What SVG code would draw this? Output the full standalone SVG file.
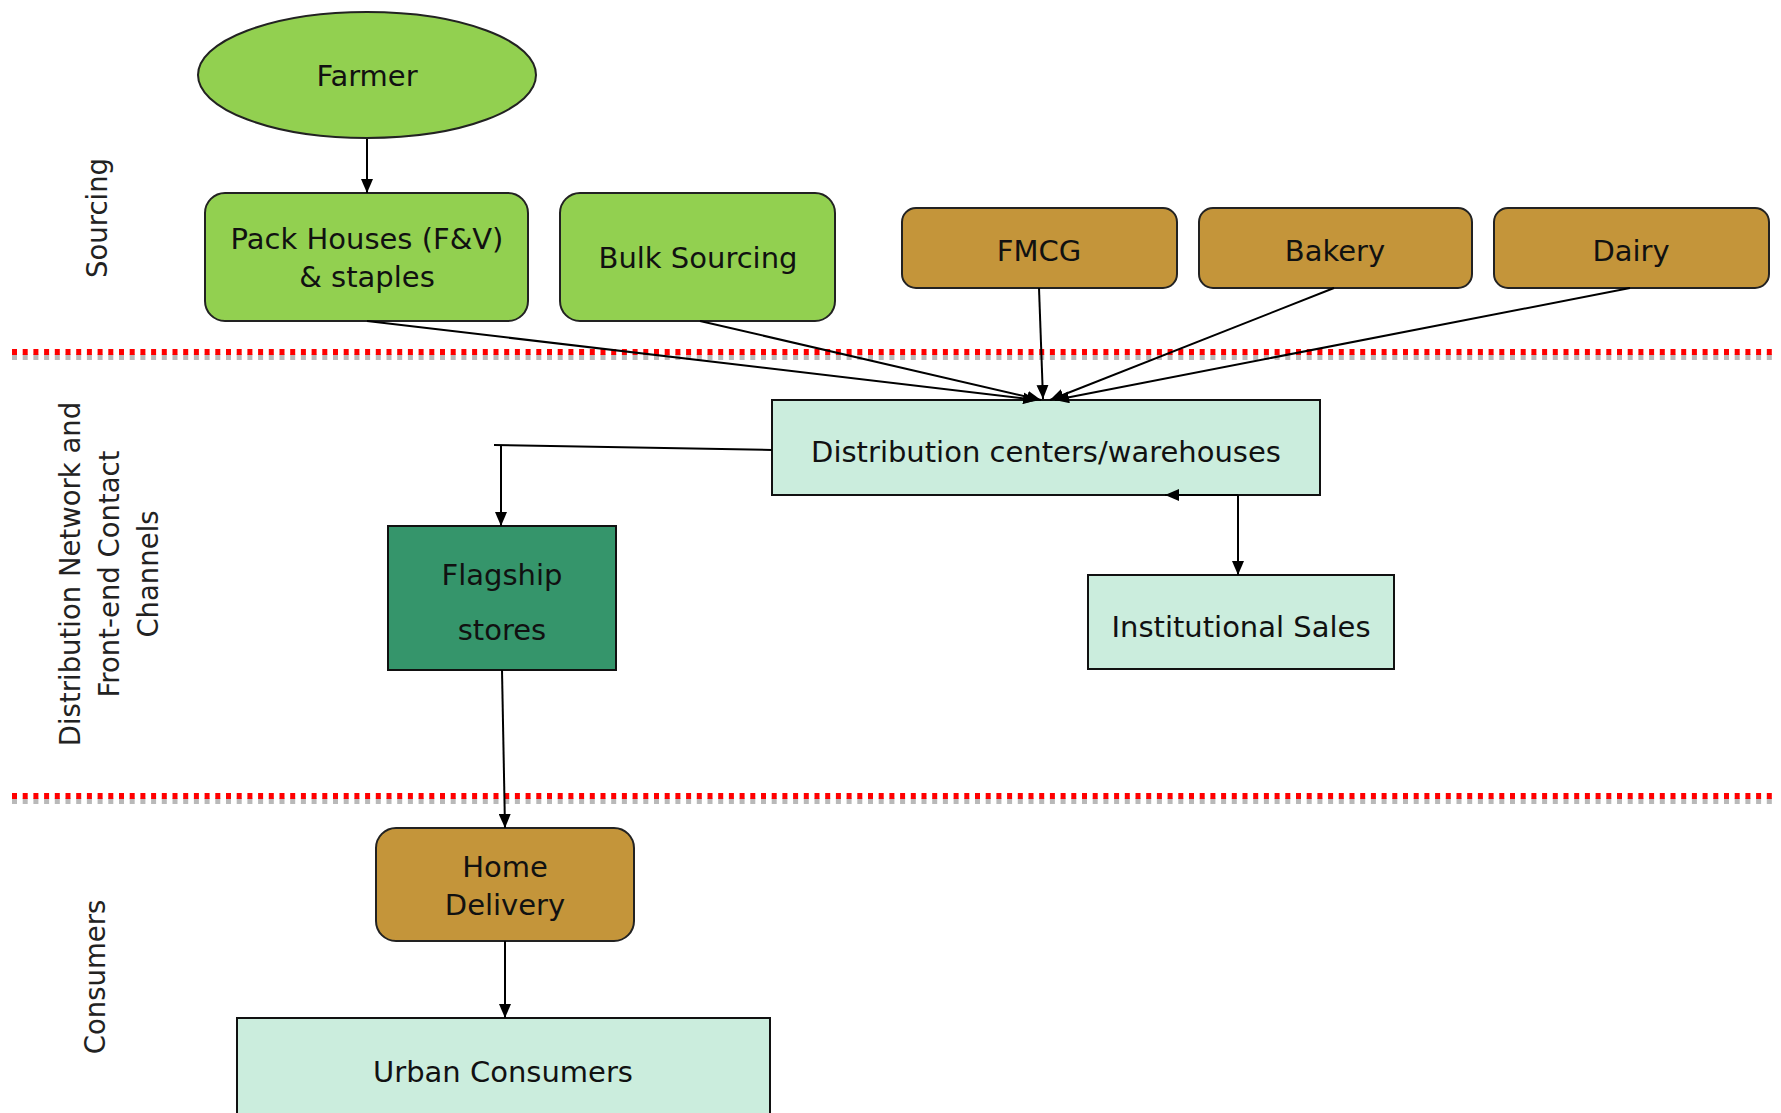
<svg xmlns="http://www.w3.org/2000/svg" width="1781" height="1113" viewBox="0 0 1781 1113">
<style>
.lbl{font-family:"DejaVu Sans",sans-serif;font-size:29px;fill:#111;text-anchor:middle}
.side{font-family:"DejaVu Sans",sans-serif;font-size:27.5px;fill:#222;text-anchor:middle}
.green{fill:#92D050;stroke:#222;stroke-width:2}
.gold{fill:#C4953A;stroke:#222;stroke-width:2}
.pale{fill:#CBEDDD;stroke:#111;stroke-width:2}
.flag{fill:#35956B;stroke:#111;stroke-width:2}
.con{fill:none;stroke:#000;stroke-width:2}
.red{stroke:#FF0000;stroke-width:6;stroke-dasharray:5 5.7}
.shadow{stroke:#A8A8A8;stroke-width:6;stroke-dasharray:5 5.7;opacity:0.8}
</style>
<defs>
<marker id="arr" markerWidth="14" markerHeight="12" refX="14" refY="6" orient="auto" markerUnits="userSpaceOnUse">
<path d="M0,0 L14,6 L0,12 Z" fill="#000"/>
</marker>
</defs>
<rect width="1781" height="1113" fill="#fff"/>

<g id="separators">
<line class="shadow" x1="12" y1="357" x2="1772" y2="357"/>
<line class="red" x1="12" y1="352" x2="1772" y2="352"/>
<line class="shadow" x1="12" y1="801" x2="1772" y2="801"/>
<line class="red" x1="12" y1="796" x2="1772" y2="796"/>
</g>

<g id="side-labels">
<text class="side" transform="translate(107,218) rotate(-90)">Sourcing</text>
<text class="side" transform="translate(80,574) rotate(-90)">Distribution Network and</text>
<text class="side" transform="translate(119,574) rotate(-90)">Front-end Contact</text>
<text class="side" transform="translate(158,574) rotate(-90)">Channels</text>
<text class="side" transform="translate(105,977) rotate(-90)">Consumers</text>
</g>

<g id="farmer">
<ellipse class="green" cx="367" cy="75" rx="169" ry="63"/>
<text class="lbl" x="367" y="86">Farmer</text>
</g>
<g id="pack-houses">
<rect class="green" x="205" y="193" width="323" height="128" rx="20"/>
<text class="lbl" x="367" y="249">Pack Houses (F&amp;V)</text>
<text class="lbl" x="367" y="287">&amp; staples</text>
</g>
<g id="bulk-sourcing">
<rect class="green" x="560" y="193" width="275" height="128" rx="20"/>
<text class="lbl" x="698" y="268">Bulk Sourcing</text>
</g>
<g id="fmcg">
<rect class="gold" x="902" y="208" width="275" height="80" rx="14"/>
<text class="lbl" x="1039" y="261">FMCG</text>
</g>
<g id="bakery">
<rect class="gold" x="1199" y="208" width="273" height="80" rx="14"/>
<text class="lbl" x="1335" y="261">Bakery</text>
</g>
<g id="dairy">
<rect class="gold" x="1494" y="208" width="275" height="80" rx="14"/>
<text class="lbl" x="1631" y="261">Dairy</text>
</g>
<g id="distribution-centers">
<rect class="pale" x="772" y="400" width="548" height="95"/>
<text class="lbl" x="1046" y="462">Distribution centers/warehouses</text>
</g>
<g id="flagship-stores">
<rect class="flag" x="388" y="526" width="228" height="144"/>
<text class="lbl" x="502" y="585">Flagship</text>
<text class="lbl" x="502" y="640">stores</text>
</g>
<g id="institutional-sales">
<rect class="pale" x="1088" y="575" width="306" height="94"/>
<text class="lbl" x="1241" y="637">Institutional Sales</text>
</g>
<g id="home-delivery">
<rect class="gold" x="376" y="828" width="258" height="113" rx="20"/>
<text class="lbl" x="505" y="877">Home</text>
<text class="lbl" x="505" y="915">Delivery</text>
</g>
<g id="urban-consumers">
<rect class="pale" x="237" y="1018" width="533" height="110"/>
<text class="lbl" x="503" y="1082">Urban Consumers</text>
</g>

<g id="connectors">
<line class="con" x1="367" y1="139" x2="367" y2="193" marker-end="url(#arr)"/>
<line class="con" x1="367" y1="321" x2="1037" y2="400" marker-end="url(#arr)" stroke-width="2.5"/>
<line class="con" x1="700" y1="321" x2="1041" y2="400" marker-end="url(#arr)"/>
<line class="con" x1="1039" y1="288" x2="1043" y2="399" marker-end="url(#arr)"/>
<line class="con" x1="1334" y1="288" x2="1050" y2="400" marker-end="url(#arr)"/>
<line class="con" x1="1630" y1="288" x2="1055" y2="400" marker-end="url(#arr)"/>
<polyline class="con" points="772,450 494,445"/>
<line class="con" x1="501" y1="446" x2="501" y2="526" marker-end="url(#arr)"/>
<line class="con" x1="1238" y1="495" x2="1165" y2="495" marker-end="url(#arr)"/>
<line class="con" x1="1238" y1="495" x2="1238" y2="575" marker-end="url(#arr)"/>
<line class="con" x1="502" y1="670" x2="505" y2="828" marker-end="url(#arr)"/>
<line class="con" x1="505" y1="941" x2="505" y2="1018" marker-end="url(#arr)"/>
</g>
</svg>
